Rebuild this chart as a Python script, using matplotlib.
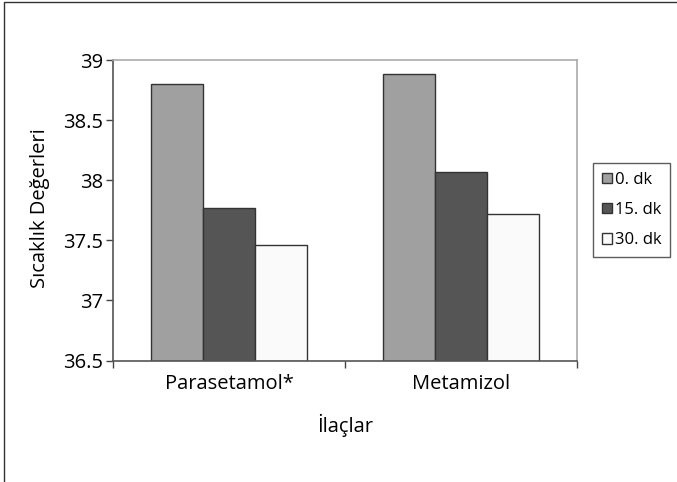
import matplotlib
matplotlib.use("Agg")
import matplotlib.pyplot as plt
import numpy as np
from matplotlib.patches import Rectangle

plt.rcParams['font.family'] = ['Open Sans', 'DejaVu Sans']

drugs = ['Parasetamol*', 'Metamizol']
series = ['0. dk', '15. dk', '30. dk']
temp_0 = [38.80, 38.88]
temp_15 = [37.77, 38.07]
temp_30 = [37.46, 37.72]

colors = ['#a0a0a0', '#555555', '#fafafa']

fig = plt.figure(figsize=(6.77, 4.82), dpi=100)
ax = fig.add_axes([113 / 677, 1 - 360.5 / 482, 464 / 677, 300.5 / 482])

x = np.arange(len(drugs))
w = 0.224
for i, (vals, lab) in enumerate(zip([temp_0, temp_15, temp_30], series)):
    ax.bar(x + (i - 1) * w, np.array(vals) - 36.5, w, bottom=36.5,
           color=colors[i], edgecolor='#333333', linewidth=1.0, label=lab)

ax.set_xlim(-0.5, 1.5)
ax.set_ylim(36.5, 39)
ax.set_yticks(np.arange(36.5, 39.01, 0.5))
ax.set_yticklabels(['36.5', '37', '37.5', '38', '38.5', '39'])
ax.set_xticks(x)
ax.set_xticklabels(drugs)
ax.set_xticks([-0.5, 0.5, 1.5], minor=True)
ax.tick_params(axis='x', which='major', length=0, labelsize=14.5, pad=10)
ax.tick_params(axis='x', which='minor', length=5, width=1, color='#444444')
ax.tick_params(axis='y', length=5, width=1, color='#444444', labelsize=14.5, pad=2)

for s in ['left', 'bottom']:
    ax.spines[s].set_color('#555555')
    ax.spines[s].set_linewidth(1.2)
for s in ['top', 'right']:
    ax.spines[s].set_color('#aaaaaa')
    ax.spines[s].set_linewidth(1.2)

ax.set_ylabel('Sıcaklık Değerleri', fontsize=14.5, labelpad=8)
ax.yaxis.set_label_coords(40 / 677, 1 - 208 / 482, transform=fig.transFigure)
ax.set_xlabel('İlaçlar', fontsize=14.5)
ax.xaxis.set_label_coords(345 / 677, 1 - 425 / 482, transform=fig.transFigure)
ax.xaxis.label.set_va('center')
ax.yaxis.label.set_va('center')

leg = ax.legend(loc='center left', bbox_to_anchor=(593 / 677, 1 - 210 / 482),
                bbox_transform=fig.transFigure, fontsize=12, frameon=True,
                fancybox=False, edgecolor='#333333', handlelength=0.6,
                handleheight=0.6, handletextpad=0.15, borderpad=0.55,
                labelspacing=0.85, borderaxespad=0)
leg.get_frame().set_linewidth(1.0)

fig.patches.append(Rectangle((4 / 677, -0.01), 1.0, 1 - 2 / 482 + 0.01,
                             transform=fig.transFigure, fill=False,
                             edgecolor='#333333', linewidth=1.0))

fig.savefig('out.png', dpi=100)
